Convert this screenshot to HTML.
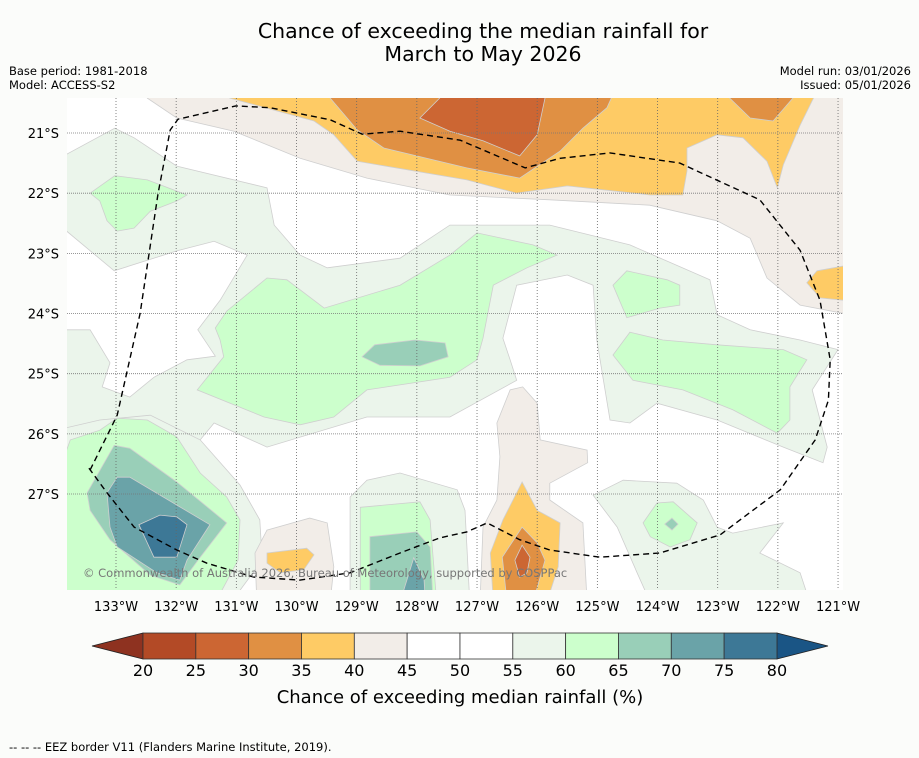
<!DOCTYPE html>
<html><head><meta charset="utf-8">
<style>
html,body{margin:0;padding:0;background:#fbfcfa;}
svg{display:block;font-family:"DejaVu Sans","Liberation Sans",sans-serif;}
</style></head>
<body>
<svg id="chart" width="919" height="758" viewBox="0 0 919 758">
<rect x="0" y="0" width="919" height="758" fill="#fbfcfa"/>
<text x="483" y="38" text-anchor="middle" font-size="20.5" fill="#000">Chance of exceeding the median rainfall for</text>
<text x="483" y="61" text-anchor="middle" font-size="20.5" fill="#000">March to May 2026</text>
<text x="9" y="75" font-size="11.5">Base period: 1981-2018</text>
<text x="9" y="89" font-size="11.5">Model: ACCESS-S2</text>
<text x="911" y="75" font-size="11.5" text-anchor="end">Model run: 03/01/2026</text>
<text x="911" y="89" font-size="11.5" text-anchor="end">Issued: 05/01/2026</text>
<defs><clipPath id="mapclip"><rect x="67" y="98" width="776" height="492"/></clipPath></defs>
<g id="map" clip-path="url(#mapclip)">
<rect x="67" y="98" width="776" height="492" fill="#ffffff"/>
<g id="regions"></g>
<g id="grid"></g>
<path id="eez" fill="none" stroke="#000" stroke-width="1.4" stroke-dasharray="6,4"/>
<text x="83" y="577" font-size="11.5" fill="#777">© Commonwealth of Australia 2026, Bureau of Meteorology, supported by COSPPac</text>
</g>
<g id="axes"></g>
<g id="colorbar"></g>
<text x="460" y="703" text-anchor="middle" font-size="18">Chance of exceeding median rainfall (%)</text>
<text x="9" y="751" font-size="11.5">--  --  -- EEZ border V11 (Flanders Marine Institute, 2019).</text>
</svg>
<script>
const lonTicks=[133,132,131,130,129,128,127,126,125,124,123,122,121];
const latTicks=[21,22,23,24,25,26,27];
const cbLevels=[20,25,30,35,40,45,50,55,60,65,70,75,80];
const cbColors=["#b34a26","#cc6633","#e09043","#fecb65","#f2ede8","#ffffff","#ffffff","#ebf5eb","#ccffcc","#99cfb8","#6aa3a8","#3d7896"];
const cbLow="#8e3220", cbHigh="#1a5585";
const levelColor={"27.5":"#cc6633","32.5":"#e09043","37.5":"#fecb65","42.5":"#f2ede8","47.5":"#ffffff","57.5":"#ebf5eb","62.5":"#ccffcc","67.5":"#99cfb8","72.5":"#6aa3a8","77.5":"#3d7896"};
const beigeTop=[[132.48,20.2],[132.48,20.42],[131.99,20.75],[131.04,20.97],[129.94,21.42],[128.83,21.75],[127.45,22.03],[125.79,22.11],[124.13,22.20],[123.01,22.46],[122.46,22.75],[122.18,23.41],[121.63,23.86],[120.8,24.02],[120.8,20.2]];
const yellowTop=[[131.11,20.2],[131.11,20.42],[129.71,20.80],[129.38,21.03],[128.99,21.47],[127.17,21.78],[126.34,22.00],[125.50,21.88],[124.12,22.03],[123.58,22.03],[123.51,21.63],[123.51,21.25],[123.01,21.03],[122.58,21.08],[122.18,21.47],[122.01,21.91],[121.91,21.53],[121.63,20.87],[121.30,20.2]];
const orangeTop=[[129.44,20.2],[129.44,20.42],[128.99,20.95],[128.55,21.25],[127.17,21.58],[126.29,21.75],[125.62,21.30],[125.24,20.92],[124.84,20.58],[124.67,20.2]];
const orangeTopRight=[[122.80,20.2],[122.80,20.42],[122.46,20.75],[122.08,20.80],[121.75,20.42],[121.75,20.2]];
const darkTop=[[127.62,20.2],[127.62,20.42],[127.95,20.75],[127.45,20.97],[126.90,21.13],[126.29,21.38],[126.00,21.03],[125.87,20.42],[125.87,20.2]];
const yellowRight=[[121.52,23.49],[121.35,23.29],[120.8,23.19],[120.8,23.79],[121.30,23.74]];
const greenBig=[[134.0,21.45],[133.02,20.92],[132.70,21.08],[131.99,21.55],[130.49,21.91],[130.37,22.53],[129.94,23.03],[129.49,23.24],[128.28,23.08],[127.45,22.53],[125.79,22.53],[124.46,22.86],[123.13,23.44],[123.01,24.02],[122.46,24.27],[121.63,24.44],[121.00,24.60],[121.43,25.27],[121.18,26.22],[121.25,26.48],[121.91,26.22],[123.01,25.77],[124.01,25.49],[124.46,25.82],[124.79,25.77],[125.01,24.44],[125.07,23.53],[125.50,23.36],[126.34,23.53],[126.57,24.41],[126.45,24.77],[126.34,25.11],[127.45,25.72],[128.83,25.72],[130.49,26.22],[131.37,25.82],[131.60,26.10],[134.0,26.10]];
const whiteLeft=[[134.0,22.48],[133.03,23.29],[131.99,22.96],[131.37,22.80],[130.82,23.03],[131.27,23.78],[131.64,24.27],[131.35,24.71],[131.82,24.77],[132.37,25.06],[132.77,25.39],[133.23,25.22],[133.10,24.82],[133.43,24.27],[134.0,24.27]];
const g1=[[133.43,22.00],[133.02,21.71],[132.48,21.78],[131.82,22.03],[131.99,22.13],[132.43,22.30],[132.70,22.58],[132.98,22.63],[133.15,22.46],[133.27,22.13]];
const g2=[[131.35,24.24],[131.16,23.96],[130.49,23.41],[130.16,23.44],[129.54,23.91],[128.28,23.53],[127.45,23.03],[127.00,22.66],[126.07,22.86],[125.67,23.03],[126.17,23.24],[126.73,23.53],[126.90,24.41],[127.00,24.77],[127.45,25.06],[128.83,25.27],[129.38,25.72],[129.94,25.85],[130.54,25.72],[131.65,25.27],[131.21,24.72],[131.27,24.44]];
const tealMid=[[128.91,24.72],[128.70,24.52],[128.03,24.44],[127.53,24.49],[127.48,24.72],[127.95,24.87],[128.61,24.86]];
const g3=[[124.74,23.53],[124.51,23.29],[123.84,23.44],[123.63,23.53],[123.63,23.86],[123.96,23.91],[124.51,24.07]];
const g4=[[124.74,24.69],[124.41,25.11],[123.58,25.27],[122.75,25.60],[122.01,25.99],[121.80,25.77],[121.80,25.22],[121.52,24.77],[121.91,24.60],[123.01,24.52],[123.91,24.44],[124.46,24.31]];
const l5=[[125.07,27.02],[124.57,26.77],[123.68,26.82],[123.24,27.10],[123.01,27.55],[122.75,27.65],[121.91,27.48],[122.30,27.98],[121.63,28.31],[121.47,28.8],[124.12,28.8],[124.34,28.31],[124.67,27.55]];
const g5=[[124.24,27.48],[124.01,27.15],[123.74,27.13],[123.34,27.48],[123.46,27.76],[123.79,27.88],[124.12,27.71]];
const tealDiamond=[[123.76,27.40],[123.66,27.50],[123.76,27.60],[123.88,27.50]];
const l6=[[134.0,25.94],[133.27,25.77],[132.43,25.69],[131.60,26.10],[130.94,26.85],[130.61,27.43],[130.57,28.10],[130.94,28.60],[130.94,28.8],[134.0,28.8]];
const g6=[[134.0,26.77],[133.76,26.10],[133.27,25.94],[132.98,25.74],[132.48,25.77],[131.99,26.05],[131.60,26.65],[131.16,27.05],[130.94,27.43],[130.97,28.10],[131.24,28.60],[131.24,28.8],[134.0,28.8]];
const g7=[[133.48,26.98],[133.03,26.19],[132.77,26.24],[131.99,26.80],[131.16,27.48],[131.60,28.05],[131.94,28.51],[132.43,28.35],[133.10,27.76],[133.43,27.27]];
const g8=[[133.15,26.98],[132.98,26.72],[132.77,26.72],[131.44,27.51],[131.82,28.10],[131.94,28.43],[132.32,28.31],[132.98,27.88],[133.10,27.55]];
const g9=[[132.62,27.51],[132.27,27.35],[131.99,27.38],[131.82,27.51],[131.99,28.05],[132.37,28.05]];
const b2=[[130.69,27.98],[130.49,27.60],[129.78,27.40],[129.49,27.48],[129.38,28.21],[129.44,28.8],[130.66,28.8]];
const y2=[[130.49,27.98],[129.83,27.90],[129.71,28.01],[129.88,28.26],[130.27,28.31],[130.49,28.15]];
const l3=[[129.11,28.8],[129.11,27.05],[128.83,26.77],[128.28,26.65],[127.33,26.93],[127.20,27.27],[127.12,28.8]];
const g10=[[128.94,27.22],[127.95,27.13],[127.78,27.43],[127.67,28.8],[128.94,28.8]];
const g11=[[128.78,27.71],[128.00,27.63],[127.78,27.88],[127.73,28.8],[128.78,28.8]];
const g12=[[128.05,28.06],[127.88,28.43],[127.86,28.8],[128.28,28.8]];
const b3=[[126.67,25.82],[126.45,25.27],[126.24,25.22],[126.00,25.49],[125.95,26.10],[125.17,26.27],[125.16,26.48],[125.79,26.82],[125.79,27.10],[125.24,27.48],[125.17,28.8],[126.95,28.8],[126.90,27.55],[126.67,27.10],[126.62,26.38]];
const y3=[[126.25,26.80],[126.00,27.27],[125.62,27.48],[125.65,28.21],[125.84,28.8],[126.73,28.8],[126.78,27.98],[126.57,27.43]];
const o3=[[126.25,27.55],[126.00,27.81],[125.87,28.10],[126.07,28.8],[126.50,28.8],[126.58,28.05]];
const d3=[[126.25,27.85],[126.12,28.05],[126.17,28.31],[126.29,28.38],[126.37,28.10]];
const eezLine=[[133.43,26.60],[132.98,25.69],[132.60,24.00],[132.30,22.00],[132.10,20.95],[131.97,20.77],[131.01,20.55],[130.44,20.58],[129.44,20.78],[128.91,21.02],[128.28,20.97],[127.28,21.12],[126.20,21.58],[125.62,21.42],[124.79,21.33],[123.63,21.50],[122.30,22.11],[121.63,22.95],[121.30,23.78],[121.13,24.77],[121.16,25.44],[121.38,26.10],[121.96,26.93],[122.96,27.68],[123.96,27.98],[124.96,28.05],[125.79,27.93],[126.29,27.76],[126.83,27.48],[127.17,27.63],[127.62,27.73],[128.28,27.98],[129.11,28.31],[129.94,28.43],[130.71,28.38],[131.49,28.15],[131.99,27.93],[132.70,27.55],[133.15,26.98],[133.45,26.57]];
const regionList=[
 ["beige-top",42.5,beigeTop],["yellow-top",37.5,yellowTop],["orange-top",32.5,orangeTop],["orange-top-right",32.5,orangeTopRight],["dark-orange-top",27.5,darkTop],["yellow-right",37.5,yellowRight],
 ["green-band",57.5,greenBig],["white-left",47.5,whiteLeft],["green-left-top",62.5,g1],["green-centre",62.5,g2],["teal-centre",67.5,tealMid],["green-right-upper",62.5,g3],["green-right-mid",62.5,g4],
 ["lightgreen-right-low",57.5,l5],["green-right-low",62.5,g5],["teal-diamond",67.5,tealDiamond],
 ["lightgreen-left-low",57.5,l6],["green-left-low",62.5,g6],["teal-left-low",67.5,g7],["blue-teal-left-low",72.5,g8],["blue-left-low",77.5,g9],
 ["beige-bottom-left",42.5,b2],["yellow-bottom-left",37.5,y2],
 ["lightgreen-bottom-mid",57.5,l3],["green-bottom-mid",62.5,g10],["teal-bottom-mid",67.5,g11],["blue-teal-bottom-mid",72.5,g12],
 ["beige-bottom-mid",42.5,b3],["yellow-bottom-mid",37.5,y3],["orange-bottom-mid",32.5,o3],["dark-orange-bottom-mid",27.5,d3]
];
const NS="http://www.w3.org/2000/svg";
const xScale=lon=>116+(133-lon)*60.17;
const yScale=lat=>133+(lat-21)*60.17;
const pathOf=(pts,close)=>pts.map((p,i)=>(i?"L":"M")+xScale(p[0]).toFixed(1)+","+yScale(p[1]).toFixed(1)).join("")+(close?"Z":"");
const regG=document.getElementById("regions");
regionList.forEach(r=>{
  const p=document.createElementNS(NS,"path");
  p.setAttribute("d",pathOf(r[2],true));
  p.setAttribute("fill",levelColor[String(r[1])]);
  p.setAttribute("stroke","#cfcfcf");
  p.setAttribute("stroke-width","0.8");
  
  
  regG.appendChild(p);
});
const gridG=document.getElementById("grid"), axG=document.getElementById("axes");
lonTicks.forEach(l=>{
  const x=xScale(l);
  const ln=document.createElementNS(NS,"line");
  ln.setAttribute("x1",x);ln.setAttribute("x2",x);ln.setAttribute("y1",98);ln.setAttribute("y2",590);
  ln.setAttribute("stroke","#666");ln.setAttribute("stroke-width","0.8");ln.setAttribute("stroke-dasharray","1,2");
  
  
  gridG.appendChild(ln);
  const t=document.createElementNS(NS,"text");
  t.setAttribute("x",x);t.setAttribute("y",611);t.setAttribute("text-anchor","middle");t.setAttribute("font-size","13");
  t.textContent=l+"°W";
  
  
  axG.appendChild(t);
});
latTicks.forEach(l=>{
  const y=yScale(l);
  const ln=document.createElementNS(NS,"line");
  ln.setAttribute("x1",67);ln.setAttribute("x2",843);ln.setAttribute("y1",y);ln.setAttribute("y2",y);
  ln.setAttribute("stroke","#777");ln.setAttribute("stroke-width","0.8");ln.setAttribute("stroke-dasharray","1,1");
  
  
  gridG.appendChild(ln);
  const t=document.createElementNS(NS,"text");
  t.setAttribute("x",59);t.setAttribute("y",y+5);t.setAttribute("text-anchor","end");t.setAttribute("font-size","13");
  t.textContent=l+"°S";
  
  
  axG.appendChild(t);
});
document.getElementById("eez").setAttribute("d",pathOf(eezLine,false));
const cb=document.getElementById("colorbar");
const cbX0=143, cbW=52.83, cbY=633, cbH=26;
const cx=v=>cbX0+(v-cbLevels[0])/5*cbW;
const lowTri=document.createElementNS(NS,"polygon");
lowTri.setAttribute("points",`${cx(cbLevels[0])},${cbY} ${cx(cbLevels[0])-51},${cbY+cbH/2} ${cx(cbLevels[0])},${cbY+cbH}`);
lowTri.setAttribute("fill",cbLow);lowTri.setAttribute("stroke","#222");lowTri.setAttribute("stroke-width","0.8");


cb.appendChild(lowTri);
const last=cbLevels[cbLevels.length-1];
const hiTri=document.createElementNS(NS,"polygon");
hiTri.setAttribute("points",`${cx(last)},${cbY} ${cx(last)+51},${cbY+cbH/2} ${cx(last)},${cbY+cbH}`);
hiTri.setAttribute("fill",cbHigh);hiTri.setAttribute("stroke","#222");hiTri.setAttribute("stroke-width","0.8");


cb.appendChild(hiTri);
cbColors.forEach((c,i)=>{
  const r=document.createElementNS(NS,"rect");
  r.setAttribute("x",cx(cbLevels[i]));r.setAttribute("y",cbY);r.setAttribute("width",cbW);r.setAttribute("height",cbH);
  r.setAttribute("fill",c);r.setAttribute("stroke","#333");r.setAttribute("stroke-width","0.8");
  
  
  cb.appendChild(r);
});
cbLevels.forEach(v=>{
  const t=document.createElementNS(NS,"text");
  t.setAttribute("x",cx(v));t.setAttribute("y",676);t.setAttribute("text-anchor","middle");t.setAttribute("font-size","16");
  t.textContent=v;
  
  
  cb.appendChild(t);
});
</script>
</body></html>
